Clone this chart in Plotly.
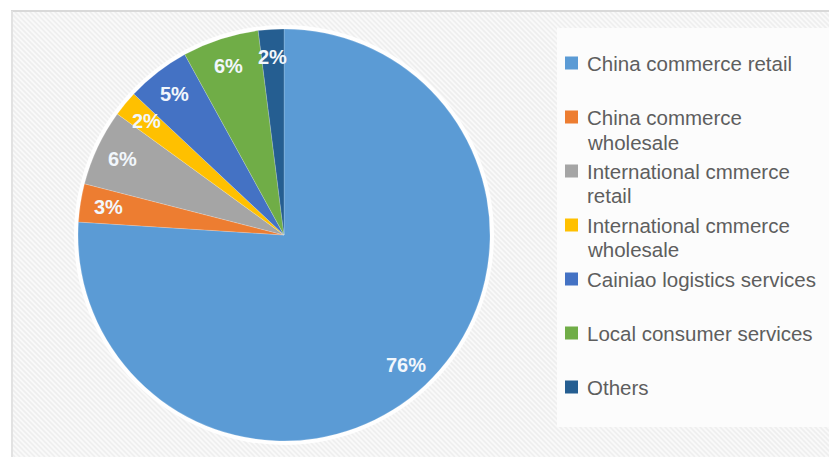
import math
import plotly.graph_objects as go

# ---- data ----
labels = ["China commerce retail", "China commerce wholesale", "International cmmerce retail",
          "International cmmerce wholesale", "Cainiao logistics services",
          "Local consumer services", "Others"]
legend_lines = [["China commerce retail"], ["China commerce", "wholesale"],
                ["International cmmerce", "retail"], ["International cmmerce", "wholesale"],
                ["Cainiao logistics services"], ["Local consumer services"], ["Others"]]
values = [76, 3, 6, 2, 5, 6, 2]
colors = ["#5b9bd5", "#ed7d31", "#a5a5a5", "#ffc000", "#4472c4", "#70ad47", "#255e91"]

W, H = 829, 457
def px(x):
    return x / W
def py(y):
    return 1 - y / H

# pie geometry (pixels)
cx, cy, r = 284, 235, 206

fig = go.Figure()
fig.add_trace(go.Pie(
    labels=labels, values=values, sort=False, direction="clockwise", rotation=0,
    marker=dict(colors=colors, line=dict(color="rgba(255,255,255,0.3)", width=0.6)),
    textinfo="none", hoverinfo="label+percent", showlegend=False,
    domain=dict(x=[px(cx - r), px(cx + r)], y=[py(cy + r), py(cy - r)]),
))

shapes = []
# background
shapes.append(dict(type="rect", xref="paper", yref="paper", x0=0, x1=1, y0=0, y1=1,
                   fillcolor="#f9f9f9", line=dict(width=0), layer="below"))
# hatch lines "\" direction
segs = []
for c in range(-H, W + 10, 5):
    x0, y0 = c, 0
    x1, y1 = c + H, H
    segs.append(f"M{px(x0):.5f},{py(y0):.5f} L{px(x1):.5f},{py(y1):.5f}")
shapes.append(dict(type="path", xref="paper", yref="paper", path=" ".join(segs),
                   line=dict(color="#eeeeee", width=1.6), layer="below"))
# white outer strips + border lines
shapes.append(dict(type="rect", xref="paper", yref="paper", x0=0, x1=1, y0=py(10), y1=1,
                   fillcolor="white", line=dict(width=0), layer="below"))
shapes.append(dict(type="rect", xref="paper", yref="paper", x0=0, x1=px(11), y0=0, y1=1,
                   fillcolor="white", line=dict(width=0), layer="below"))
shapes.append(dict(type="line", xref="paper", yref="paper", x0=px(11), x1=1, y0=py(11), y1=py(11),
                   line=dict(color="#d9d9d9", width=2), layer="below"))
shapes.append(dict(type="line", xref="paper", yref="paper", x0=px(12), x1=px(12), y0=0, y1=py(11),
                   line=dict(color="#e2e2e2", width=2), layer="below"))
# legend panel
shapes.append(dict(type="rect", xref="paper", yref="paper", x0=px(557), x1=1, y0=py(427), y1=py(28),
                   fillcolor="#fcfcfc", line=dict(width=0), layer="below"))
# white glow behind the pie
g = r + 4
shapes.append(dict(type="circle", xref="paper", yref="paper", x0=px(cx - g), x1=px(cx + g),
                   y0=py(cy + g), y1=py(cy - g), fillcolor="rgba(255,255,255,0.9)",
                   line=dict(width=0), layer="below"))

annotations = []
# percentage labels
total = sum(values)
start = 0.0
for v in values:
    mid = (start + v / 2) / total * 2 * math.pi
    start += v
    rr = 0.865 * r
    lx = cx + rr * math.sin(mid)
    ly = cy - rr * math.cos(mid)
    annotations.append(dict(x=px(lx), y=py(ly), xref="paper", yref="paper",
                            text=f"<b>{round(v / total * 100)}%</b>", showarrow=False,
                            font=dict(family="Liberation Sans, Arial", size=20, color="#f2f7fc"),
                            xanchor="center", yanchor="middle"))

# manual legend
slot0, slot_gap, line_gap = 63, 54, 25
for i, (lines, col) in enumerate(zip(legend_lines, colors)):
    yy = slot0 + i * slot_gap
    shapes.append(dict(type="rect", xref="paper", yref="paper", x0=px(565), x1=px(578),
                       y0=py(yy + 6.5), y1=py(yy - 6.5), fillcolor=col, line=dict(width=0)))
    for j, t in enumerate(lines):
        annotations.append(dict(x=px(585), y=py(yy + j * line_gap), xref="paper", yref="paper",
                                text=t, showarrow=False, xanchor="left", yanchor="middle",
                                font=dict(family="Liberation Sans, Arial", size=20.5, color="#5e5e5e")))

fig.update_layout(width=W, height=H, autosize=False, margin=dict(l=0, r=0, t=0, b=0),
                  paper_bgcolor="white", plot_bgcolor="white", shapes=shapes,
                  annotations=annotations, showlegend=False)
fig.write_html("out.html")
